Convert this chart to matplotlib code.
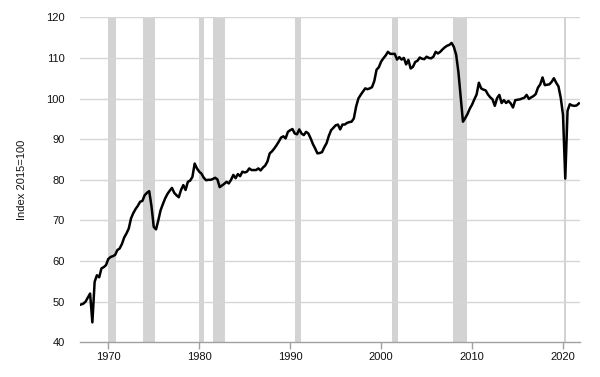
import numpy as np
import matplotlib
matplotlib.use("Agg")
import matplotlib.pyplot as plt

# quarterly values, 1967Q1 .. 2021Q4 (index 2015=100)
START_YEAR = 1967
values = [
    49.3, 49.5, 50.0, 51.0,    # 1967
    52.0, 44.9, 54.9, 56.5,    # 1968
    56.0, 58.2, 58.5, 59.0,    # 1969
    60.5, 61.0, 61.2, 61.5,    # 1970
    62.7, 63.1, 64.2, 65.8,    # 1971
    66.8, 68.0, 70.5, 71.8,    # 1972
    72.8, 73.6, 74.6, 74.8,    # 1973
    76.2, 76.8, 77.2, 73.5,    # 1974
    68.4, 67.8, 70.0, 72.5,    # 1975
    74.0, 75.4, 76.5, 77.3,    # 1976
    78.0, 76.8, 76.2, 75.7,    # 1977
    77.5, 78.7, 77.5, 79.5,    # 1978
    79.8, 80.7, 84.0, 82.8,    # 1979
    82.0, 81.5, 80.5, 79.9,    # 1980
    80.0, 80.0, 80.2, 80.5,    # 1981
    80.1, 78.2, 78.6, 79.0,    # 1982
    79.5, 79.1, 80.0, 81.2,    # 1983
    80.4, 81.4, 80.9, 82.0,    # 1984
    81.8, 82.0, 82.8, 82.4,    # 1985
    82.4, 82.4, 82.8, 82.3,    # 1986
    83.0, 83.5, 84.5, 86.5,    # 1987
    87.0, 87.7, 88.5, 89.4,    # 1988
    90.4, 90.7, 90.2, 91.8,    # 1989
    92.2, 92.5, 91.4, 91.2,    # 1990
    92.4, 91.4, 91.0, 91.8,    # 1991
    91.4, 90.2, 88.8, 87.7,    # 1992
    86.5, 86.6, 86.8, 88.0,    # 1993
    89.0, 90.8, 92.2, 92.8,    # 1994
    93.4, 93.6, 92.4, 93.6,    # 1995
    93.6, 94.0, 94.2, 94.3,    # 1996
    95.1, 98.0, 100.0, 100.9,  # 1997
    101.7, 102.5, 102.3, 102.5,  # 1998
    102.8, 104.3, 107.1, 107.7,  # 1999
    109.1, 109.9, 110.6, 111.5,  # 2000
    111.0, 111.0, 111.0, 109.6,  # 2001
    110.2, 109.6, 110.0, 108.4,  # 2002
    109.5, 107.4, 107.8, 109.0,  # 2003
    109.3, 110.1, 109.8, 109.7,  # 2004
    110.3, 110.0, 109.9, 110.3,  # 2005
    111.5, 111.1, 111.5, 112.1,  # 2006
    112.6, 113.0, 113.2, 113.7,  # 2007
    112.7, 110.8, 106.5, 100.3,  # 2008
    94.3, 95.2, 96.2, 97.5,    # 2009
    98.5, 99.8, 101.0, 103.9,  # 2010
    102.5, 102.2, 102.0, 101.0,  # 2011
    100.3, 99.8, 98.2, 100.1,  # 2012
    100.9, 98.9, 99.6, 98.9,   # 2013
    99.4, 98.8, 97.8, 99.6,    # 2014
    99.7, 99.8, 100.0, 100.2,  # 2015
    100.9, 99.9, 100.3, 100.6,  # 2016
    101.1, 102.7, 103.5, 105.2,  # 2017
    103.3, 103.4, 103.5, 104.1,  # 2018
    105.0, 103.9, 103.0, 100.2,  # 2019
    96.0, 80.3, 97.0, 98.6,    # 2020
    98.3, 98.2, 98.3, 98.8,    # 2021
]

# recession periods (start, end) in decimal years
rec_start = [1969.92, 1973.83, 1980.0, 1981.5, 1990.5, 2001.17, 2007.92, 2020.08]
rec_end   = [1970.83, 1975.17, 1980.5, 1982.83, 1991.17, 2001.83, 2009.42, 2020.30]

y_ticks = [40, 50, 60, 70, 80, 90, 100, 110, 120]
x_ticks = [1970, 1980, 1990, 2000, 2010, 2020]

t = START_YEAR + np.arange(len(values)) / 4.0

plt.rcParams['font.family'] = ['Liberation Sans', 'DejaVu Sans']

fig = plt.figure(figsize=(6.0, 3.77), dpi=100)
ax = fig.add_axes([80 / 600, 1 - 342.3 / 377, 500 / 600, 325 / 377])

for s, e in zip(rec_start, rec_end):
    ax.axvspan(s, e, color='#d3d3d3', lw=0, zorder=1)

for v in y_ticks[1:]:
    ax.axhline(v, color='#d6d6d6', lw=1.0, zorder=2)

ax.plot(t, values, color='black', lw=1.8, zorder=3, solid_joinstyle='round')

ax.set_xlim(1966.89, 2021.87)
ax.set_ylim(40, 120)
ax.set_yticks(y_ticks)
ax.set_xticks(x_ticks)

for side in ['top', 'right', 'left']:
    ax.spines[side].set_visible(False)
ax.spines['bottom'].set_color('#a0a0a0')
ax.spines['bottom'].set_linewidth(1.0)

ax.tick_params(axis='y', length=0, pad=11, labelsize=8, labelcolor='#111111')
ax.tick_params(axis='x', length=5, width=1.0, color='#a0a0a0', pad=2,
               labelsize=8, labelcolor='#111111')

ax.set_ylabel('Index 2015=100', fontsize=8, color='#111111', labelpad=14)

fig.savefig('out.png', dpi=100)
